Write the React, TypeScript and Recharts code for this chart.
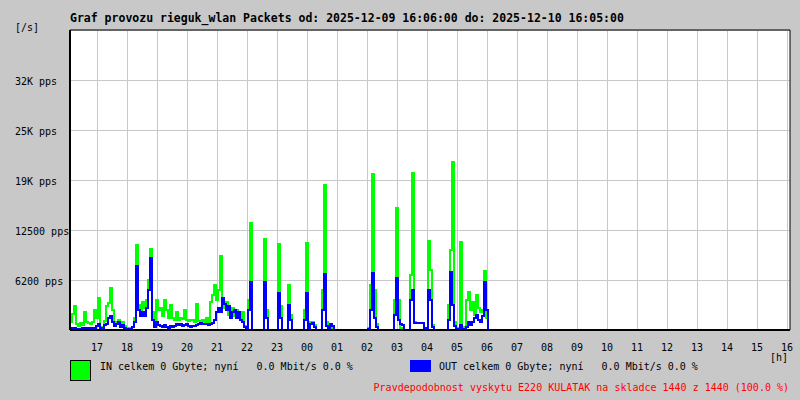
import React from 'react';
import { LineChart, Line, XAxis, YAxis, CartesianGrid, ReferenceLine } from 'recharts';

// one sample every 4 minutes starting at 16:06
const STEP_MIN = 4;

// IN packets/s
const inPps = [
  1000, 2000, 3000, 750, 500, 900, 600, 2250, 1000, 900,
  750, 1000, 2500, 1500, 4000, 400, 250, 1100, 3000, 3400,
  5250, 2500, 600, 1000, 1250, 750, 1000, 500, 250, 250,
  150, 400, 1500, 10600, 3100, 2500, 3500, 2750, 3750, 6250,
  10100, 2250, 750, 3750, 2500, 2750, 1750, 3750, 2500, 1500,
  3100, 1500, 1250, 2250, 1250, 1500, 1400, 2500, 1250, 1100,
  1250, 1250, 1000, 3250, 1100, 1000, 1250, 1000, 1500, 1000,
  3500, 4400, 5600, 3750, 5000, 9250, 3750, 2750, 3500, 1900,
  2500, 2750, 1750, 2500, 2000, 1250, 2250, 500, 400, 3750,
  13400, 0, 0, 0, 0, 0, 0, 11400, 2500, 0,
  0, 0, 0, 0, 10750, 3000, 0, 0, 0, 5600,
  1900, 0, 0, 0, 0, 0, 0, 2500, 10900, 500,
  1000, 1000, 600, 0, 0, 0, 5000, 18100, 1000, 0,
  400, 250, 0, 0, 0, 0, 0, 0, 0, 0,
  0, 0, 0, 0, 0, 0, 0, 0, 0, 250,
  5600, 19500, 5000, 750, 0, 0, 0, 0, 0, 0,
  0, 0, 3750, 15250, 3750, 250, 250, 0, 0, 0,
  6900, 19600, 1000, 900, 900, 900, 900, 250, 0, 11100,
  7500, 600, 0, 0, 0, 0, 0, 0, 0, 3100,
  10000, 21000, 1000, 250, 0, 11000, 400, 0, 3750, 4750,
  2500, 3500, 1900, 4400, 2750, 2250, 2500, 7400, 1500, 0,
];

// OUT packets/s
const outPps = [
  125, 250, 250, 125, 125, 125, 250, 250, 125, 250,
  125, 250, 250, 500, 750, 250, 125, 600, 750, 1500,
  1750, 1000, 500, 750, 1000, 400, 600, 250, 125, 125,
  125, 400, 1000, 8000, 2500, 1750, 2250, 1750, 2750, 5000,
  9000, 1250, 400, 1000, 600, 500, 400, 600, 400, 250,
  500, 400, 500, 750, 600, 750, 500, 600, 750, 500,
  400, 500, 500, 600, 750, 900, 750, 750, 750, 600,
  750, 900, 1250, 2250, 2750, 2250, 4000, 3250, 2500, 3000,
  1500, 2250, 2500, 1500, 2250, 1250, 1000, 400, 250, 2500,
  6000, 0, 0, 0, 0, 0, 0, 6000, 1500, 0,
  0, 0, 0, 0, 4600, 1500, 0, 0, 0, 3100,
  1250, 0, 0, 0, 0, 0, 0, 1250, 4600, 250,
  750, 900, 400, 0, 0, 0, 2500, 7000, 500, 0,
  750, 500, 0, 0, 0, 0, 0, 0, 0, 0,
  0, 0, 0, 0, 0, 0, 0, 0, 0, 125,
  2500, 7100, 1500, 400, 0, 0, 0, 0, 0, 0,
  0, 0, 1900, 6500, 1250, 750, 600, 0, 0, 0,
  3750, 5000, 900, 900, 900, 900, 900, 250, 0, 5000,
  3750, 400, 0, 0, 0, 0, 0, 0, 0, 1250,
  7250, 3100, 500, 125, 0, 600, 125, 0, 400, 1000,
  600, 1000, 1500, 1900, 1250, 1000, 1750, 6000, 2500, 0,
];

// minutes after 16:06 for each full hour
const hourTicks = [54, 114, 174, 234, 294, 354, 414, 474, 534, 594, 654, 714, 774, 834, 894, 954, 1014, 1074, 1134, 1194, 1254, 1314, 1374, 1434];
const hourLabels = ['17', '18', '19', '20', '21', '22', '23', '00', '01', '02', '03', '04', '05', '06', '07', '08', '09', '10', '11', '12', '13', '14', '15', '16'];

const ppsTicks = [6250, 12500, 18750, 25000, 31250];
const ppsLabels = ['6200 pps', '12500 pps', '19K pps', '25K pps', '32K pps'];

const data = inPps.map((v, i) => ({ t: i * STEP_MIN, in: v, out: outPps[i] }));

const FONT = '"DejaVu Sans Mono", monospace';
const BG = '#c8c8c8';

const HourTick = (props: any) => {
  const { x, payload } = props;
  const idx = hourTicks.indexOf(payload.value);
  return (
    <text x={x} y={351} textAnchor="middle" fontFamily={FONT} fontSize={10} fill="#000">
      {hourLabels[idx]}
    </text>
  );
};

const PpsTick = (props: any) => {
  const { y, payload } = props;
  const idx = ppsTicks.indexOf(payload.value);
  return (
    <text x={15} y={y + 4.5} textAnchor="start" fontFamily={FONT} fontSize={10} fill="#000">
      {ppsLabels[idx]}
    </text>
  );
};

export default function App() {
  return (
    <div style={{ position: 'absolute', left: 0, top: 0, width: 800, height: 400, background: BG }}>
      <LineChart width={800} height={400} data={data} margin={{ top: 30, right: 10, left: 10, bottom: 40 }}>
        <CartesianGrid stroke={BG} fill="#ffffff" shapeRendering="crispEdges" />
        <XAxis
          type="number"
          dataKey="t"
          domain={[0, 1440]}
          ticks={hourTicks}
          interval={0}
          tick={<HourTick />}
          tickLine={false}
          axisLine={{ stroke: '#000', strokeWidth: 2 }}
          height={30}
        />
        <YAxis
          type="number"
          domain={[0, 37500]}
          ticks={ppsTicks}
          interval={0}
          tick={<PpsTick />}
          tickLine={false}
          axisLine={{ stroke: '#000', strokeWidth: 2 }}
          width={60}
        />
        <ReferenceLine y={37500} stroke="#000" />
        <ReferenceLine x={1440} stroke="#000" />
        <Line type="stepAfter" dataKey="in" stroke="#00ff00" strokeWidth={1.5} shapeRendering="crispEdges" dot={false} isAnimationActive={false} />
        <Line type="stepAfter" dataKey="out" stroke="#0000ff" strokeWidth={1.5} shapeRendering="crispEdges" dot={false} isAnimationActive={false} />
      </LineChart>
      <svg width={800} height={400} style={{ position: 'absolute', left: 0, top: 0, pointerEvents: 'none' }}>
        <text x={70} y={22} fontFamily={FONT} fontSize={11.5} fontWeight="bold" fill="#000">
          Graf provozu rieguk_wlan Packets od: 2025-12-09 16:06:00 do: 2025-12-10 16:05:00
        </text>
        <text x={15} y={31} fontFamily={FONT} fontSize={10} fill="#000">[/s]</text>
        <text x={770} y={361} fontFamily={FONT} fontSize={10} fill="#000">[h]</text>
        <rect x={70.5} y={360.5} width={20} height={20} fill="#00ff00" stroke="#000" />
        <text x={100} y={370} fontFamily={FONT} fontSize={10} fill="#000" style={{ whiteSpace: 'pre' }}>
          IN celkem 0 Gbyte; nyní   0.0 Mbit/s 0.0 %
        </text>
        <rect x={410} y={360} width={21} height={12} fill="#0000ff" />
        <text x={439} y={370} fontFamily={FONT} fontSize={10} fill="#000" style={{ whiteSpace: 'pre' }}>
          OUT celkem 0 Gbyte; nyní   0.0 Mbit/s 0.0 %
        </text>
        <text x={789} y={391} textAnchor="end" fontFamily={FONT} fontSize={10} fill="#ff0000">
          Pravdepodobnost vyskytu E220 KULATAK na skladce 1440 z 1440 (100.0 %)
        </text>
      </svg>
    </div>
  );
}
